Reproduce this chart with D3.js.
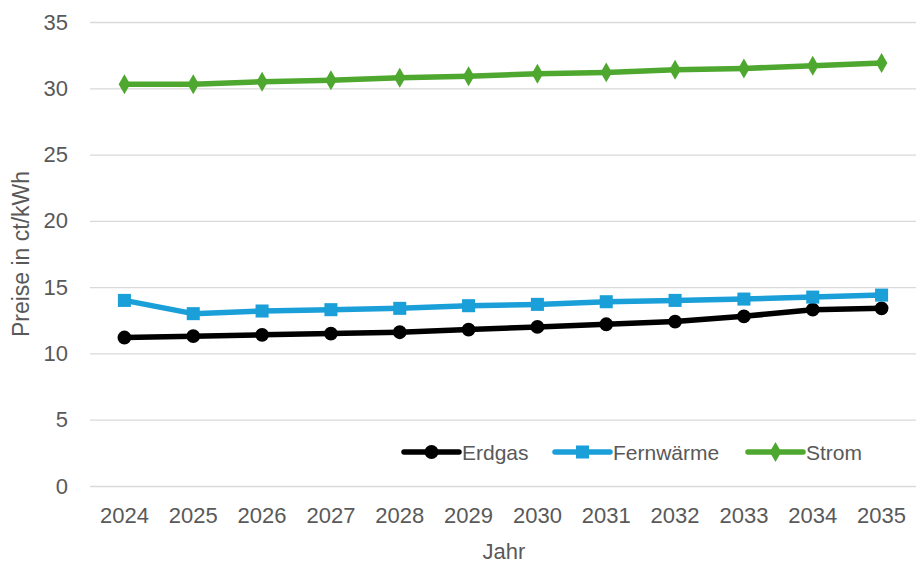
<!DOCTYPE html>
<html>
<head>
<meta charset="utf-8">
<script src="https://cdn.jsdelivr.net/npm/d3@7/dist/d3.min.js"></script>
<style>
  html, body { margin: 0; padding: 0; background: #fff; }
  svg { display: block; }
</style>
</head>
<body>
<div id="chart"></div>
<script>
// Price forecast per energy carrier (ct/kWh)
const years = ["2024","2025","2026","2027","2028","2029","2030","2031","2032","2033","2034","2035"];
const erdgas = [11.2, 11.3, 11.4, 11.5, 11.6, 11.8, 12.0, 12.2, 12.4, 12.8, 13.3, 13.4];
const fernwaerme = [14.0, 13.0, 13.2, 13.3, 13.4, 13.6, 13.7, 13.9, 14.0, 14.1, 14.25, 14.4];
const strom = [30.3, 30.3, 30.5, 30.6, 30.8, 30.9, 31.1, 31.2, 31.4, 31.5, 31.7, 31.9];
const yTicks = [0, 5, 10, 15, 20, 25, 30, 35];

const seriesNames = ["Erdgas", "Fernwärme", "Strom"];
const seriesValues = [erdgas, fernwaerme, strom];
const seriesColors = ["#000000", "#1a9fd8", "#4ea72e"];
const seriesSymbols = [d3.symbolCircle, d3.symbolSquare, d3.symbolDiamond];
const symbolSizes = [150, 170, 115];

const W = 916, H = 563;
const margin = { left: 90, right: 0, top: 22, bottom: 77 };
const FONT = "'Liberation Sans', Arial, sans-serif";
const TEXT = "#595959";

const svg = d3.select("#chart").append("svg")
  .attr("width", W).attr("height", H);

const x = d3.scaleBand().domain(years)
  .range([margin.left, W - margin.right]);
const y = d3.scaleLinear().domain([0, 35])
  .range([H - margin.bottom, margin.top]);

// horizontal gridlines with value labels
const yAxis = svg.append("g")
  .attr("transform", `translate(${margin.left},0)`)
  .call(d3.axisLeft(y).tickValues(yTicks).tickSize(-(W - margin.left - margin.right)).tickPadding(22))
  .call(g => g.select(".domain").remove());
yAxis.selectAll(".tick line").attr("stroke", "#d9d9d9").attr("stroke-width", 1.3);
yAxis.selectAll(".tick text")
  .attr("fill", TEXT).attr("font-family", FONT)
  .attr("font-size", 22);

// category labels
const xAxis = svg.append("g")
  .attr("transform", `translate(0,${H - margin.bottom})`)
  .call(d3.axisBottom(x).tickSize(0).tickPadding(21))
  .call(g => g.select(".domain").remove());
xAxis.selectAll(".tick text")
  .attr("fill", TEXT).attr("font-family", FONT)
  .attr("font-size", 22);

// axis titles
svg.append("text")
  .attr("x", (x.range()[0] + x.range()[1]) / 2 + 1)
  .attr("y", 559)
  .attr("text-anchor", "middle")
  .attr("fill", TEXT).attr("font-family", FONT)
  .attr("font-size", 22).text("Jahr");

svg.append("text")
  .attr("transform", `translate(29,${y(17.5)}) rotate(-90)`)
  .attr("text-anchor", "middle")
  .attr("fill", TEXT).attr("font-family", FONT)
  .attr("font-size", 23).text("Preise in ct/kWh");

const cx = d => x(d) + x.bandwidth() / 2;
const line = d3.line().x((d, i) => cx(years[i])).y(d => y(d));

seriesValues.forEach((vals, s) => {
  const g = svg.append("g");
  g.append("path").datum(vals)
    .attr("d", line)
    .attr("fill", "none")
    .attr("stroke", seriesColors[s])
    .attr("stroke-width", 5.5)
    .attr("stroke-linejoin", "round");
  g.selectAll("path.marker").data(vals).join("path")
    .attr("class", "marker")
    .attr("transform", (d, i) => `translate(${cx(years[i])},${y(d)})`)
    .attr("d", d3.symbol().type(seriesSymbols[s]).size(symbolSizes[s]))
    .attr("fill", seriesColors[s]);
});

// legend
const legendX = [404, 555, 748];
const legendY = 452;
seriesNames.forEach((name, s) => {
  const g = svg.append("g").attr("transform", `translate(${legendX[s]},${legendY})`);
  g.append("line").attr("x1", 0).attr("x2", 55).attr("y1", 0).attr("y2", 0)
    .attr("stroke", seriesColors[s]).attr("stroke-width", 5.5).attr("stroke-linecap", "round");
  g.append("path").attr("transform", "translate(27.5,0)")
    .attr("d", d3.symbol().type(seriesSymbols[s]).size(symbolSizes[s]))
    .attr("fill", seriesColors[s]);
  g.append("text").attr("x", 58).attr("y", 7.5)
    .attr("fill", TEXT).attr("font-family", FONT)
    .attr("font-size", 21).text(name);
});
</script>
</body>
</html>
